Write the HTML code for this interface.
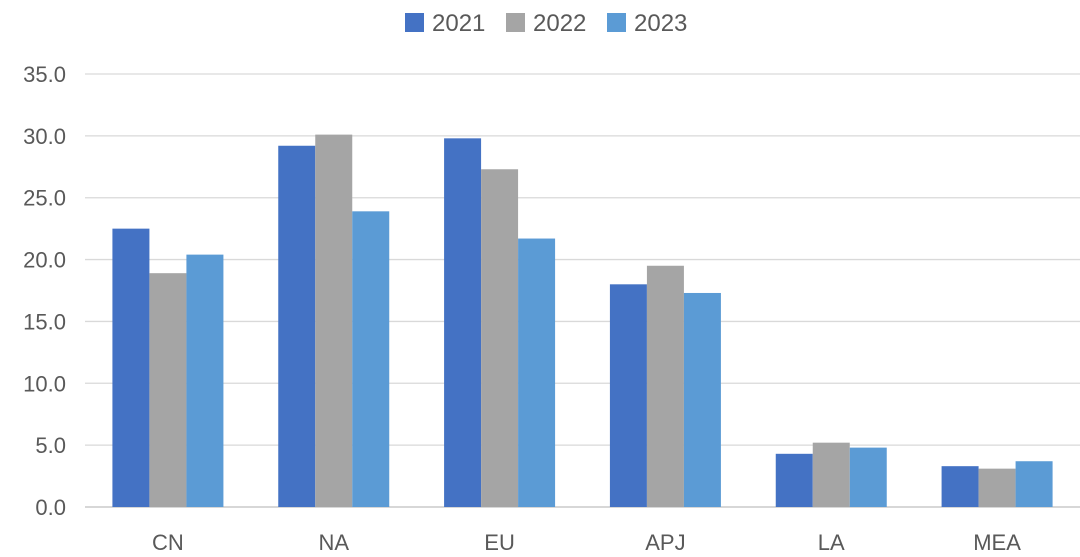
<!DOCTYPE html>
<html><head><meta charset="utf-8"><style>
html,body{margin:0;padding:0;background:#fff;}
svg{display:block;font-family:"Liberation Sans",Arial,sans-serif;}
</style></head><body>
<svg id="chart" width="1080" height="557" viewBox="0 0 1080 557" xmlns="http://www.w3.org/2000/svg"></svg>
<script>
const categories = ["CN","NA","EU","APJ","LA","MEA"];
const seriesNames = ["2021","2022","2023"];
const values2021 = [22.5,29.2,29.8,18.0,4.3,3.3];
const values2022 = [18.9,30.1,27.3,19.5,5.2,3.1];
const values2023 = [20.4,23.9,21.7,17.3,4.8,3.7];
const yTicks = [0,5,10,15,20,25,30,35];
const yTickLabels = ["0.0","5.0","10.0","15.0","20.0","25.0","30.0","35.0"];

const colors = ["#4472C4","#A5A5A5","#5B9BD5"];
const series = [values2021, values2022, values2023];
const svg = document.getElementById('chart');
const NS = "http://www.w3.org/2000/svg";
const plotL = 85, plotR = 1080, y0 = 507, yTop = 74, yMax = 35;
const bandW = (plotR - plotL) / categories.length;
const barW = 37;
const yScale = v => y0 - (v / yMax) * (y0 - yTop);
const xBand = i => plotL + bandW * i;
function mk(tag, attrs){const e=document.createElementNS(NS,tag);for(const k in attrs)e.setAttribute(k,attrs[k]);svg.appendChild(e);return e;}

yTicks.forEach((t,i)=>{
  const y = yScale(t);
  const g = mk('line',{x1:plotL,x2:plotR,y1:y,y2:y,stroke:i===0?'#bfbfbf':'#d9d9d9','stroke-width':1.3});
  
  
  const tx = mk('text',{x:66,y:y+8,'text-anchor':'end','font-size':22,fill:'#595959'});
  tx.textContent = yTickLabels[i];
  
  
});

categories.forEach((c,i)=>{
  const cx = xBand(i) + bandW/2;
  series.forEach((vals,s)=>{
    const v = vals[i];
    const x = cx - barW*1.5 + s*barW;
    const r = mk('rect',{x:x,y:yScale(v),width:barW,height:y0-yScale(v),fill:colors[s]});
    
    
  });
  const t = mk('text',{x:cx,y:550,'text-anchor':'middle','font-size':22,fill:'#595959'});
  t.textContent = c;
  
  
});

const legendX = [405,506,607];
seriesNames.forEach((n,s)=>{
  const r = mk('rect',{x:legendX[s],y:13,width:19,height:19,fill:colors[s]});
  
  
  const t = mk('text',{x:legendX[s]+27,y:31,'font-size':24,fill:'#595959'});
  t.textContent = n;
  
  
});
</script>
</body></html>
